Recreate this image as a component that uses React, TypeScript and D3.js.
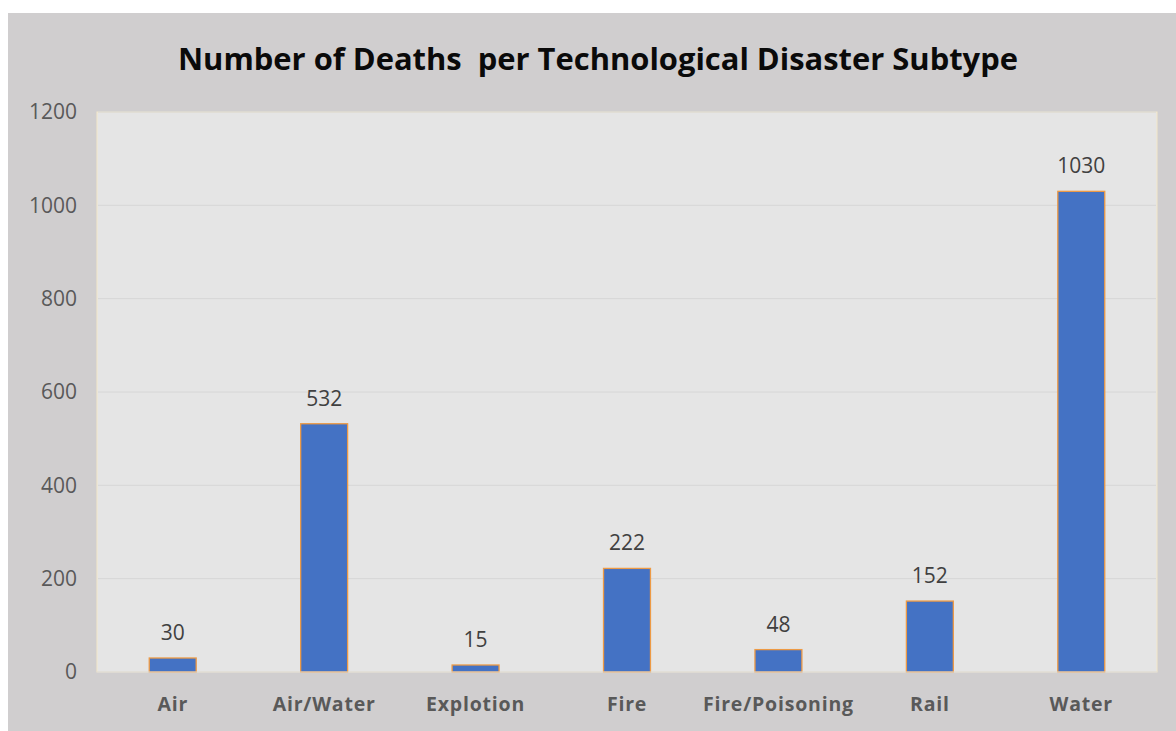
import React from "react";
import * as d3 from "d3";

const categories = ["Air", "Air/Water", "Explotion", "Fire", "Fire/Poisoning", "Rail", "Water"];
const deaths = [30, 532, 15, 222, 48, 152, 1030];
const yTicks = [0, 200, 400, 600, 800, 1000, 1200];
const title = "Number of Deaths  per Technological Disaster Subtype";

const W = 1176;
const H = 731;
const plot = { left: 97, right: 1157, top: 112, bottom: 672 };

export default function App() {
  const x = d3
    .scaleBand<string>()
    .domain(categories)
    .range([plot.left, plot.right])
    .paddingInner(0.69)
    .paddingOuter(0.345);
  const y = d3.scaleLinear().domain([0, 1200]).range([plot.bottom, plot.top]);
  const font = "'Open Sans', 'Noto Sans', sans-serif";

  return (
    <svg
      width={W}
      height={H}
      style={{ position: "absolute", left: 0, top: 0, background: "#ffffff" }}
    >
      <rect x={8} y={13} width={W} height={H} fill="#d0cecf" />
      <text
        x={598}
        y={70}
        textAnchor="middle"
        fontFamily={font}
        fontWeight={700}
        fontSize={30}
        fill="#0a0a0a"
        textLength={840}
        lengthAdjust="spacingAndGlyphs"
        style={{ whiteSpace: "pre" }}
      >
        {title}
      </text>
      <rect
        x={plot.left}
        y={plot.top}
        width={plot.right - plot.left}
        height={plot.bottom - plot.top}
        fill="#e5e5e5"
        stroke="#f3e7c9"
        strokeWidth={1}
      />
      {yTicks.slice(1).map((t) => (
        <line
          key={"g" + t}
          x1={plot.left + 1}
          x2={plot.right - 1}
          y1={y(t)}
          y2={y(t)}
          stroke="#d6d6d6"
          strokeWidth={1}
        />
      ))}
      {yTicks.map((t) => (
        <text
          key={"t" + t}
          x={77}
          y={y(t)}
          dy="0.35em"
          textAnchor="end"
          fontFamily={font}
          fontSize={21}
          fill="#595959"
        >
          {t}
        </text>
      ))}
      {categories.map((c, i) => {
        const bx = x(c) as number;
        const bw = x.bandwidth();
        const top = y(deaths[i]);
        return (
          <g key={c}>
            <rect
              x={bx}
              y={top}
              width={bw}
              height={plot.bottom - top}
              fill="#4472c4"
              stroke="#ed9a45"
              strokeWidth={1.3}
            />
            <text
              x={bx + bw / 2}
              y={top - 18}
              textAnchor="middle"
              fontFamily={font}
              fontSize={21}
              fill="#404040"
            >
              {deaths[i]}
            </text>
            <text
              x={bx + bw / 2}
              y={711}
              textAnchor="middle"
              fontFamily={font}
              fontWeight={700}
              fontSize={19.5}
              letterSpacing={0.8}
              fill="#595959"
            >
              {c}
            </text>
          </g>
        );
      })}
      <line
        x1={plot.left}
        x2={plot.right}
        y1={plot.bottom}
        y2={plot.bottom}
        stroke="#d9d9d9"
        strokeWidth={1}
      />
    </svg>
  );
}
